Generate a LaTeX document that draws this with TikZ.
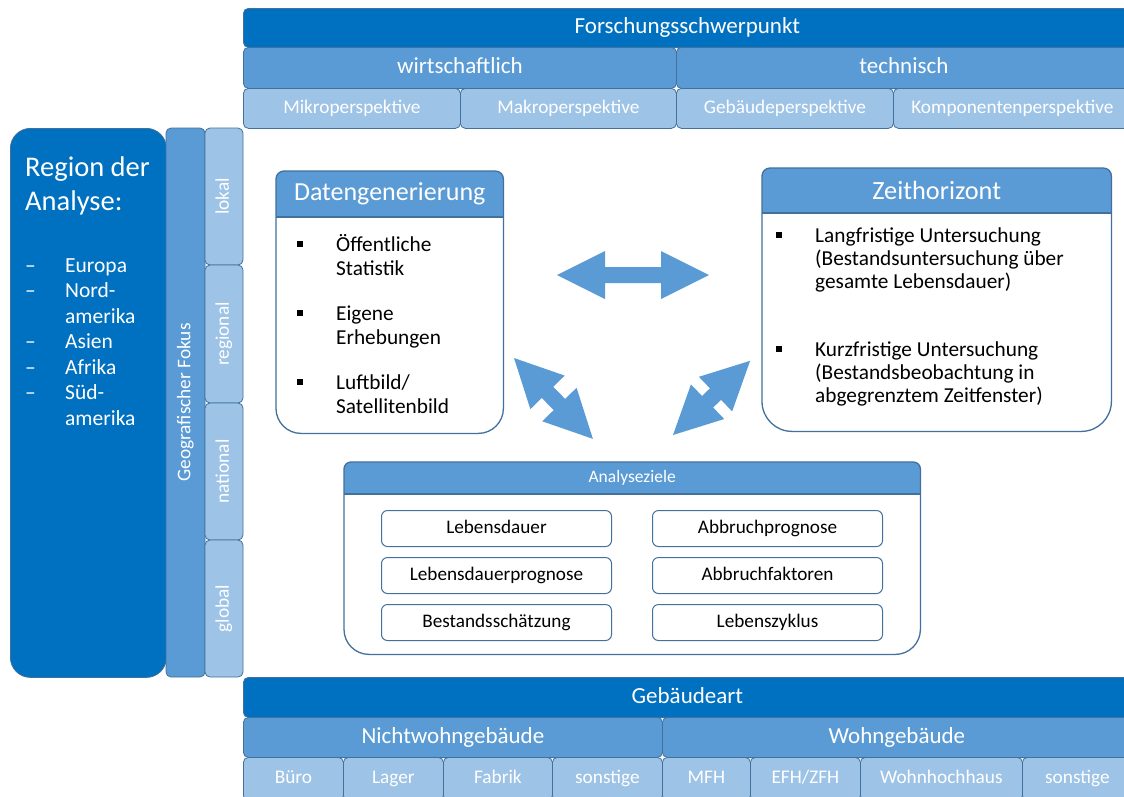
\documentclass[tikz,border=0pt]{standalone}
\usepackage{fontspec}
\setmainfont{Carlito}
\usetikzlibrary{calc}
\definecolor{dunkel}{HTML}{0070C0}
\definecolor{mittel}{HTML}{5B9BD5}
\definecolor{hell}{HTML}{9DC3E6}
\definecolor{rand}{HTML}{41719C}
\newcommand{\fsz}[2]{\fontsize{#1}{#2}\selectfont}

\tikzset{
  cell/.style={draw=rand, line width=0.8pt, rounded corners=5pt, text=white,
               inner sep=0pt, anchor=north west},
  dk/.style={cell, fill=dunkel},
  md/.style={cell, fill=mittel},
  lt/.style={cell, fill=hell},
  big/.style={font=\fsz{23}{27}, text height=17pt, text depth=5.8pt},
  small/.style={font=\fsz{19.3}{23}, text height=14.5pt, text depth=4.8pt},
  frame/.style={draw=rand, line width=1.3pt},
  zielbox/.style={draw=rand, line width=1pt, fill=white, rounded corners=6pt,
                  minimum width=230pt, minimum height=36pt, inner sep=0pt,
                  anchor=north west, font=\fsz{19.2}{23}, text height=14.4pt, text depth=4.8pt},
  bul/.style={fill=black, minimum size=6pt, inner sep=0pt},
  txt/.style={anchor=base west, inner sep=0pt, font=\fsz{21.3}{25}},
  reg/.style={anchor=base west, inner sep=0pt, text=white, font=\fsz{21.5}{25}},
  pfeil/.style={fill=mittel},
}

\begin{document}
\begin{tikzpicture}[x=1pt, y=-1pt]
\useasboundingbox (0,0) rectangle (1124,796);
\fill[white] (0,0) rectangle (1124,796);

% --- Forschungsschwerpunkt (top bands)
\node[dk, big, minimum width=888pt, minimum height=39pt] (fsp) at (243,8) {Forschungsschwerpunkt};
\node[md, big, minimum width=433pt, minimum height=41pt] (wir) at (243,47) {wirtschaftlich};
\node[md, big, minimum width=455pt, minimum height=41pt] (tec) at (676,47) {technisch};
\node[lt, small, minimum width=217pt, minimum height=40pt] (mik) at (243,88) {Mikroperspektive};
\node[lt, small, minimum width=216pt, minimum height=40pt] (mak) at (460,88) {Makroperspektive};
\node[lt, small, minimum width=217pt, minimum height=40pt] (gbp) at (676,88) {Gebäudeperspektive};
\node[lt, small, minimum width=238pt, minimum height=40pt] (kom) at (893,88) {Komponentenperspektive};

% --- Region der Analyse
\node[dk, rounded corners=20pt, minimum width=156pt, minimum height=549pt] (region) at (10,128) {};
\node[anchor=base west, inner sep=0pt, text=white, font=\fsz{28.5}{34}] (rt1) at (25,176) {Region der};
\node[anchor=base west, inner sep=0pt, text=white, font=\fsz{28.5}{34}] (rt2) at (25,210) {Analyse:};
\node[reg] (d1) at (25,272) {–};
\node[reg] (r1) at (65,272) {Europa};
\node[reg] (d2) at (25,297.5) {–};
\node[reg] (r2) at (65,297.5) {Nord-};
\node[reg] (r2b) at (65,323) {amerika};
\node[reg] (d3) at (25,348.5) {–};
\node[reg] (r3) at (65,348.5) {Asien};
\node[reg] (d4) at (25,374) {–};
\node[reg] (r4) at (65,374) {Afrika};
\node[reg] (d5) at (25,399.5) {–};
\node[reg] (r5) at (65,399.5) {Süd-};
\node[reg] (r5b) at (65,425) {amerika};

% --- Geografischer Fokus
\node[md, small, rotate=90, anchor=center, minimum width=549pt, minimum height=39pt] (geo) at (185.5,402.5) {Geografischer Fokus};
\node[lt, small, rotate=90, anchor=center, minimum width=137pt, minimum height=38pt] (lok) at (224,196.5) {lokal};
\node[lt, small, rotate=90, anchor=center, minimum width=138pt, minimum height=38pt] (rgn) at (224,334) {regional};
\node[lt, small, rotate=90, anchor=center, minimum width=137pt, minimum height=38pt] (nat) at (224,471.5) {national};
\node[lt, small, rotate=90, anchor=center, minimum width=137pt, minimum height=38pt] (glo) at (224,608.5) {global};

% --- Gebäudeart (bottom bands)
\node[dk, big, minimum width=888pt, minimum height=40pt] (gart) at (243,677) {Gebäudeart};
\node[md, big, minimum width=419pt, minimum height=40pt] (nwg) at (243,717) {Nichtwohngebäude};
\node[md, big, minimum width=469pt, minimum height=40pt] (wg) at (662,717) {Wohngebäude};
\node[lt, small, minimum width=100pt, minimum height=43pt] (bu) at (243,757) {Büro};
\node[lt, small, minimum width=100pt, minimum height=43pt] (la) at (343,757) {Lager};
\node[lt, small, minimum width=109pt, minimum height=43pt] (fa) at (443,757) {Fabrik};
\node[lt, small, minimum width=110pt, minimum height=43pt] (so1) at (552,757) {sonstige};
\node[lt, small, minimum width=88pt, minimum height=43pt] (mfh) at (662,757) {MFH};
\node[lt, small, minimum width=110pt, minimum height=43pt] (efh) at (750,757) {EFH/ZFH};
\node[lt, small, minimum width=162pt, minimum height=43pt] (whh) at (860,757) {Wohnhochhaus};
\node[lt, small, minimum width=110pt, minimum height=43pt] (so2) at (1022,757) {sonstige};

% --- Datengenerierung
\node[minimum width=227pt, minimum height=262pt, inner sep=0pt, anchor=north west] (dg) at (276,171) {};
\fill[white] (dg.west) [rounded corners=25pt] -- (dg.south west) -- (dg.south east) -- (dg.east)
  [rounded corners=8pt] -- (dg.north east) -- (dg.north west) -- cycle;
\fill[mittel, rounded corners=8pt] (dg.north west) rectangle ($(dg.north east)+(0,46)$);
\fill[mittel] ($(dg.north west)+(0,20)$) rectangle ($(dg.north east)+(0,46)$);
\draw[frame] ($(dg.north west)+(0,46)$) -- ($(dg.north east)+(0,46)$);
\draw[frame] (dg.west) [rounded corners=25pt] -- (dg.south west) -- (dg.south east) -- (dg.east)
  [rounded corners=8pt] -- (dg.north east) -- (dg.north west) -- cycle;
\node[text=white, font=\fsz{26}{31}, inner sep=0pt] (dgh) at ($(dg.north)+(0,23)$) {Datengenerierung};
\node[bul] (db1) at (300,244) {};
\node[txt] (dt1) at (336,251) {Öffentliche};
\node[txt] (dt2) at (336,275) {Statistik};
\node[bul] (db2) at (300,313) {};
\node[txt] (dt3) at (336,320) {Eigene};
\node[txt] (dt4) at (336,344) {Erhebungen};
\node[bul] (db3) at (300,382) {};
\node[txt] (dt5) at (336,389) {Luftbild/};
\node[txt] (dt6) at (336,413) {Satellitenbild};

% --- Zeithorizont
\node[minimum width=349pt, minimum height=263pt, inner sep=0pt, anchor=north west] (zh) at (762,168) {};
\fill[white] (zh.west) [rounded corners=30pt] -- (zh.south west) -- (zh.south east) -- (zh.east)
  [rounded corners=8pt] -- (zh.north east) -- (zh.north west) -- cycle;
\fill[mittel, rounded corners=8pt] (zh.north west) rectangle ($(zh.north east)+(0,45)$);
\fill[mittel] ($(zh.north west)+(0,20)$) rectangle ($(zh.north east)+(0,45)$);
\draw[frame] ($(zh.north west)+(0,45)$) -- ($(zh.north east)+(0,45)$);
\draw[frame] (zh.west) [rounded corners=30pt] -- (zh.south west) -- (zh.south east) -- (zh.east)
  [rounded corners=8pt] -- (zh.north east) -- (zh.north west) -- cycle;
\node[text=white, font=\fsz{26.3}{31}, inner sep=0pt] (zhh) at ($(zh.north)+(0,22.5)$) {Zeithorizont};
\node[bul] (zb1) at (779,235) {};
\node[txt] (zt1) at (815,242) {Langfristige Untersuchung};
\node[txt] (zt2) at (815,265) {(Bestandsuntersuchung über};
\node[txt] (zt3) at (815,288) {gesamte Lebensdauer)};
\node[bul] (zb2) at (779,349) {};
\node[txt] (zt4) at (815,356) {Kurzfristige Untersuchung};
\node[txt] (zt5) at (815,379) {(Bestandsbeobachtung in};
\node[txt] (zt6) at (815,402) {abgegrenztem Zeitfenster)};

% --- Analyseziele
\node[minimum width=576pt, minimum height=192pt, inner sep=0pt, anchor=north west] (az) at (344,462) {};
\fill[white] (az.west) [rounded corners=25pt] -- (az.south west) -- (az.south east) -- (az.east)
  [rounded corners=7pt] -- (az.north east) -- (az.north west) -- cycle;
\fill[mittel, rounded corners=7pt] (az.north west) rectangle ($(az.north east)+(0,32)$);
\fill[mittel] ($(az.north west)+(0,16)$) rectangle ($(az.north east)+(0,32)$);
\draw[frame] ($(az.north west)+(0,32)$) -- ($(az.north east)+(0,32)$);
\draw[frame] (az.west) [rounded corners=25pt] -- (az.south west) -- (az.south east) -- (az.east)
  [rounded corners=7pt] -- (az.north east) -- (az.north west) -- cycle;
\node[text=white, font=\fsz{17.5}{21}, inner sep=0pt] (azh) at ($(az.north)+(0,16)$) {Analyseziele};
\node[zielbox] (z1) at (381,510) {Lebensdauer};
\node[zielbox] (z2) at (381,557) {Lebensdauerprognose};
\node[zielbox] (z3) at (381,604) {Bestandsschätzung};
\node[zielbox] (z4) at (652,510) {Abbruchprognose};
\node[zielbox] (z5) at (652,557) {Abbruchfaktoren};
\node[zielbox] (z6) at (652,604) {Lebenszyklus};

% --- block arrows between the three areas
\begin{scope}[shift={(557,275)}]
  \fill[pfeil] (0,0) -- (48,24) -- (48,8) -- (104,8) -- (104,24) -- (152,0)
    -- (104,-24) -- (104,-8) -- (48,-8) -- (48,-24) -- cycle;
\end{scope}
\begin{scope}[shift={(514,358)}, rotate=-45.7]
  \fill[pfeil] (0,0) -- (48,24) -- (48,8) -- (65,8) -- (65,24) -- (113,0)
    -- (65,-24) -- (65,-8) -- (48,-8) -- (48,-24) -- cycle;
\end{scope}
\begin{scope}[shift={(673,435)}, rotate=43.9]
  \fill[pfeil] (0,0) -- (48,24) -- (48,8) -- (59,8) -- (59,24) -- (107,0)
    -- (59,-24) -- (59,-8) -- (48,-8) -- (48,-24) -- cycle;
\end{scope}
\end{tikzpicture}
\end{document}
